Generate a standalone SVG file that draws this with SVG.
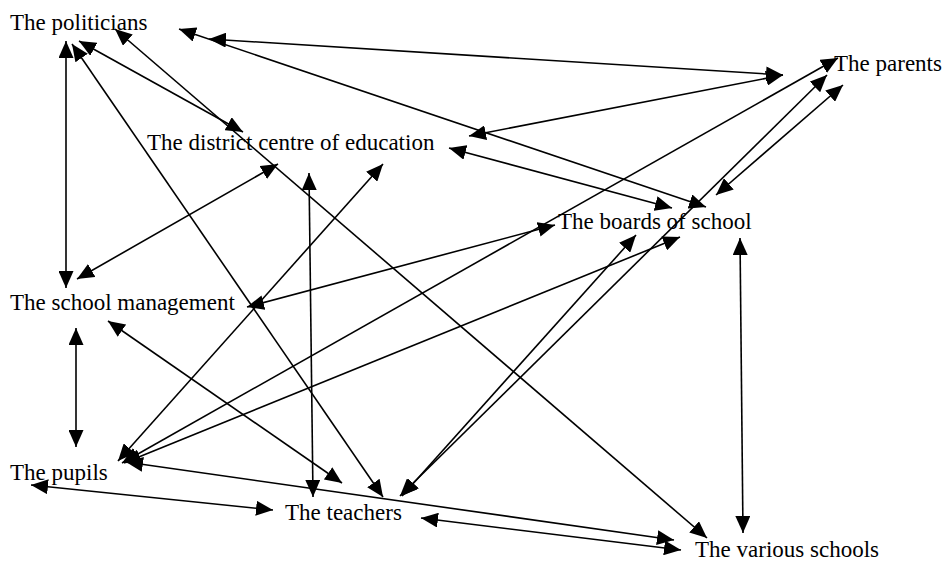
<svg xmlns="http://www.w3.org/2000/svg" width="943" height="563" viewBox="0 0 943 563">
<style>
text{font-family:"Liberation Serif","Times New Roman",serif;font-size:23px;fill:#000}
.c line{stroke:#000;stroke-width:1.6;fill:none;marker-start:url(#ah);marker-end:url(#ah)}
</style>
<defs>
<marker id="ah" viewBox="0 0 17 15" refX="17" refY="7.5" markerWidth="17" markerHeight="15" markerUnits="userSpaceOnUse" orient="auto-start-reverse">
<path d="M0,0 L17,7.5 L0,15 z" fill="#000"/>
</marker>
</defs>
<rect width="943" height="563" fill="#fff"/>
<g id="connectors" class="c">
<line x1="66" y1="41" x2="66" y2="288"/>
<line x1="79" y1="41" x2="243" y2="132"/>
<line x1="115" y1="29" x2="707" y2="538"/>
<line x1="72" y1="44" x2="383" y2="497"/>
<line x1="179" y1="29" x2="706" y2="207"/>
<line x1="209" y1="39" x2="783" y2="75"/>
<line x1="469" y1="136" x2="783" y2="75"/>
<line x1="449" y1="148" x2="672" y2="208"/>
<line x1="278" y1="164" x2="77" y2="279"/>
<line x1="309" y1="173" x2="313" y2="497"/>
<line x1="383" y1="164" x2="118" y2="461"/>
<line x1="838" y1="58" x2="122" y2="463"/>
<line x1="827" y1="75" x2="400" y2="496"/>
<line x1="843" y1="85" x2="716" y2="195"/>
<line x1="247" y1="307" x2="555" y2="225"/>
<line x1="740" y1="238" x2="743" y2="533"/>
<line x1="636" y1="235" x2="402" y2="496"/>
<line x1="680" y1="237" x2="124" y2="463"/>
<line x1="76" y1="328" x2="76" y2="447"/>
<line x1="108" y1="321" x2="342" y2="483"/>
<line x1="31" y1="485" x2="273" y2="510"/>
<line x1="126" y1="462" x2="674" y2="540"/>
<line x1="421" y1="518" x2="681" y2="550"/>
</g>
<g id="politicians"><text x="10" y="30">The politicians</text></g>
<g id="district"><text x="147" y="150">The district centre of education</text></g>
<g id="parents"><text x="834" y="71">The parents</text></g>
<g id="boards"><text x="558" y="229">The boards of school</text></g>
<g id="management"><text x="10" y="310">The school management</text></g>
<g id="pupils"><text x="10" y="480">The pupils</text></g>
<g id="teachers"><text x="285" y="520">The teachers</text></g>
<g id="various"><text x="695" y="557">The various schools</text></g>
</svg>
